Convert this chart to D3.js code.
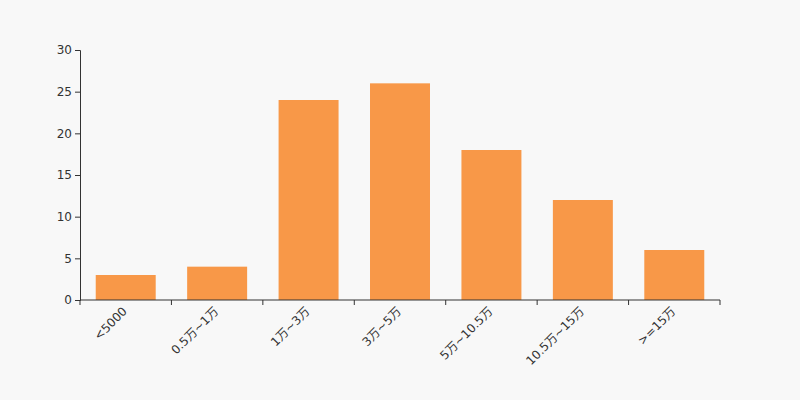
<!DOCTYPE html>
<html><head><meta charset="utf-8">
<script src="https://cdn.jsdelivr.net/npm/d3@7"></script>
<style>html,body{margin:0;padding:0;background:#f8f8f8;}svg text{font-family:"DejaVu Sans","Noto Sans CJK SC",sans-serif;}</style>
</head><body>
<svg id="c" width="800" height="400"></svg>
<script>
const categories = ["<5000","0.5万~1万","1万~3万","3万~5万","5万~10.5万","10.5万~15万",">=15万"];
const values = [3,4,24,26,18,12,6];
const yTicks = [0,5,10,15,20,25,30];

const svg = d3.select("#c");
svg.append("rect").attr("width",800).attr("height",400).attr("fill","#f8f8f8");
const m = {left:80, right:80, top:50, bottom:100};
const W = 800, H = 400;
const x = d3.scaleBand().domain(categories).range([m.left, W-m.right]).paddingInner(0).paddingOuter(0);
const y = d3.scaleLinear().domain([0,30]).range([H-m.bottom, m.top]);
const bw = x.bandwidth()*0.656;

svg.append("g").selectAll("rect").data(categories).join("rect")
  .attr("x", d => x(d) + (x.bandwidth()-bw)/2)
  .attr("width", bw)
  .attr("y", (d,i) => y(values[i]))
  .attr("height", (d,i) => y(0)-y(values[i]))
  .attr("fill", "#f89848");

const gy = svg.append("g").attr("transform",`translate(${m.left},0)`)
  .call(d3.axisLeft(y).tickValues(yTicks).tickSize(5).tickPadding(3));
gy.attr("font-family",null).attr("font-size",null);
gy.selectAll("text").attr("fill","#333").style("font-size","12px");
gy.selectAll("line,path").attr("stroke","#333");

const gx = svg.append("g").attr("transform",`translate(0,${H-m.bottom})`);
gx.append("line").attr("x1",m.left).attr("x2",W-m.right).attr("stroke","#333");
const bounds = categories.map(c=>x(c)).concat([W-m.right]);
gx.selectAll("line.t").data(bounds).join("line").attr("class","t")
  .attr("x1",d=>d).attr("x2",d=>d).attr("y1",0).attr("y2",5).attr("stroke","#333");
gx.selectAll("text").data(categories).join("text")
  .attr("transform", d => `translate(${x(d)+x.bandwidth()/2-4},${6}) rotate(-45)`)
  .attr("text-anchor","end").attr("dy","0.71em")
  .attr("fill","#333").style("font-size","12px")
  .text(d=>d);
</script>
</body></html>
